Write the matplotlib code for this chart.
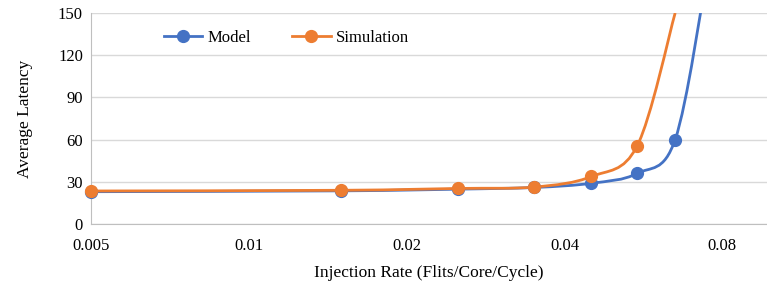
import numpy as np
import matplotlib.pyplot as plt
from matplotlib.path import Path
from matplotlib.patches import PathPatch
from matplotlib.lines import Line2D

# datos
rate_model = [0.005, 0.015, 0.025, 0.035, 0.045, 0.055, 0.065, 0.075]
lat_model = [23.0, 23.6, 24.8, 26.0, 29.0, 36.0, 60.0, 180.0]
rate_sim = [0.005, 0.015, 0.025, 0.035, 0.045, 0.055, 0.065]
lat_sim = [23.5, 24.0, 25.3, 26.3, 33.8, 55.5, 150.0]

x_ticks = [0.005, 0.01, 0.02, 0.04, 0.08]
x_tick_labels = ['0.005', '0.01', '0.02', '0.04', '0.08']
y_ticks = [0, 30, 60, 90, 120, 150]

azul = '#4472C4'
naranja = '#ED7D31'

plt.rcParams['font.family'] = ['Liberation Serif', 'DejaVu Serif']


def curva_suave(xs, ys):
    """Curva tipo Excel (Bezier cubica) en espacio log-x."""
    lx = np.log(np.asarray(xs))
    y = np.asarray(ys, dtype=float)
    n = len(lx)
    verts = [(xs[0], y[0])]
    codes = [Path.MOVETO]
    for i in range(n - 1):
        i0 = max(i - 1, 0)
        i3 = min(i + 2, n - 1)
        c1x = lx[i] + (lx[i + 1] - lx[i0]) / 6
        c1y = y[i] + (y[i + 1] - y[i0]) / 6
        c2x = lx[i + 1] - (lx[i3] - lx[i]) / 6
        c2y = y[i + 1] - (y[i3] - y[i]) / 6
        verts += [(np.exp(c1x), c1y), (np.exp(c2x), c2y), (xs[i + 1], y[i + 1])]
        codes += [Path.CURVE4] * 3
    return Path(verts, codes)


fig = plt.figure(figsize=(7.67, 2.88), dpi=100)
ax = fig.add_axes([0.119, 0.222, 0.881, 0.733])
ax.set_xscale('log', base=2)
ax.set_xlim(0.005, 0.0973)
ax.set_ylim(0, 150)

for xs, ys, c, n_vis in [(rate_model, lat_model, azul, 7),
                         (rate_sim, lat_sim, naranja, 6)]:
    patch = PathPatch(curva_suave(xs, ys), facecolor='none', edgecolor=c,
                      lw=2.0, zorder=3)
    ax.add_patch(patch)
    ax.plot(xs[:n_vis], ys[:n_vis], 'o', color=c, ms=8.5, zorder=4, clip_on=False)

ax.set_xticks(x_ticks)
ax.set_xticklabels(x_tick_labels)
ax.xaxis.set_minor_locator(plt.NullLocator())
ax.set_yticks(y_ticks)
ax.tick_params(length=0, labelsize=12, colors='black')
ax.tick_params(axis='x', pad=10)
ax.tick_params(axis='y', pad=6)

ax.grid(axis='y', color='#D9D9D9', lw=1)
ax.set_axisbelow(True)
for s in ['top', 'right']:
    ax.spines[s].set_visible(False)
ax.spines['left'].set_color('#BFBFBF')
ax.spines['bottom'].set_color('#BFBFBF')

ax.set_xlabel('Injection Rate (Flits/Core/Cycle)', fontsize=12.5, labelpad=8)
ax.set_ylabel('Average Latency', fontsize=12.5, labelpad=18)

handles = [Line2D([], [], color=azul, lw=2, marker='o', ms=8.5),
           Line2D([], [], color=naranja, lw=2, marker='o', ms=8.5)]
ax.legend(handles, ['Model', 'Simulation'], loc='upper left', ncol=2,
          bbox_to_anchor=(0.085, 0.99), frameon=False, fontsize=12,
          handlelength=2.3, handletextpad=0.3, columnspacing=2.5)

plt.savefig('out.png', dpi=100)
